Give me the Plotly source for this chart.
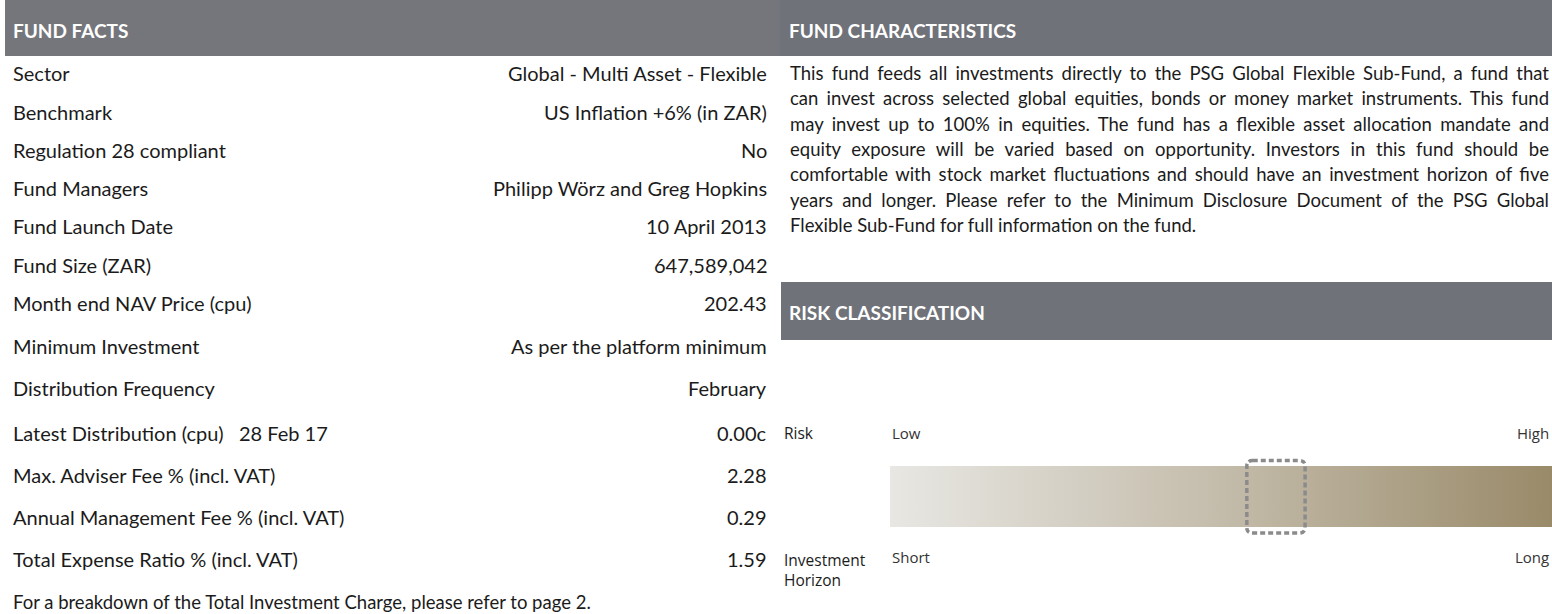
import json
import plotly.graph_objects as go

# ---- data ----
fact_labels = [
    "Sector", "Benchmark", "Regulation 28 compliant", "Fund Managers",
    "Fund Launch Date", "Fund Size (ZAR)", "Month end NAV Price (cpu)",
    "Minimum Investment", "Distribution Frequency",
    "Latest Distribution (cpu)\u00a0\u00a0\u00a028 Feb 17",
    "Max. Adviser Fee % (incl. VAT)", "Annual Management Fee % (incl. VAT)",
    "Total Expense Ratio % (incl. VAT)",
]
fact_values = [
    "Global - Multi Asset - Flexible", "US Inflation +6% (in ZAR)", "No",
    "Philipp Wörz and Greg Hopkins", "10 April 2013", "647,589,042", "202.43",
    "As per the platform minimum", "February", "0.00c", "2.28", "0.29", "1.59",
]
footnote = "For a breakdown of the Total Investment Charge, please refer to page 2."

characteristics_lines = [
    "This fund feeds all investments directly to the PSG Global Flexible Sub-Fund, a fund that",
    "can invest across selected global equities, bonds or money market instruments. This fund",
    "may invest up to 100% in equities. The fund has a flexible asset allocation mandate and",
    "equity exposure will be varied based on opportunity. Investors in this fund should be",
    "comfortable with stock market fluctuations and should have an investment horizon of five",
    "years and longer. Please refer to the Minimum Disclosure Document of the PSG Global",
    "Flexible Sub-Fund for full information on the fund.",
]

risk_scale_ends = ["Low", "High"]
horizon_scale_ends = ["Short", "Long"]
risk_level = 0.583  # position of the fund on the low -> high scale

# ---- layout helpers (pixel positions) ----
W, H = 1552, 614
row_y = [73, 112, 150, 188, 226, 265, 303, 346, 388, 433, 475, 517, 559]
footer_y = 602
para_y0, para_dy = 73, 25.3
para_x0, para_x1 = 789, 1548
bar_x0, bar_top, bar_bot = 890, 466, 527
pad = 0.2  # extra room round the bar so the marker is not clipped

HEAD = "#75767c"
HEAD2 = "#707279"
TXT = "#1b1b1b"
BODY_FONT = "Lato"

fig = go.Figure()

# gradient risk bar
fig.add_trace(go.Scatter(
    x=[0, 1, 1, 0, 0], y=[0, 0, 1, 1, 0],
    fill="toself", mode="none",
    fillgradient=dict(type="horizontal",
                      colorscale=[[0, "#e8e7e3"], [0.5, "#c4bcab"], [1, "#998a69"]]),
    hoverinfo="skip", showlegend=False,
    xaxis="x2", yaxis="y2",
))

shapes = [
    dict(type="rect", xref="x", yref="y", x0=5, x1=780, y0=0, y1=56,
         fillcolor=HEAD, line_width=0, layer="below"),
    dict(type="rect", xref="x", yref="y", x0=780, x1=W, y0=0, y1=56,
         fillcolor=HEAD2, line_width=0, layer="below"),
    dict(type="rect", xref="x", yref="y", x0=781, x1=W, y0=282, y1=340,
         fillcolor=HEAD2, line_width=0, layer="below"),
]

# dashed rounded marker around the risk level
hw, rx = 0.044, 0.009
yb, yt, ry = -0.1, 1.09, 0.09
xl, xr = risk_level - hw, risk_level + hw
path = (f"M {xl + rx},{yt} L {xr - rx},{yt} Q {xr},{yt} {xr},{yt - ry} "
        f"L {xr},{yb + ry} Q {xr},{yb} {xr - rx},{yb} L {xl + rx},{yb} "
        f"Q {xl},{yb} {xl},{yb + ry} L {xl},{yt - ry} Q {xl},{yt} {xl + rx},{yt} Z")
shapes.append(dict(type="path", xref="x2", yref="y2", path=path,
                   line=dict(color="#8b8b8b", width=3.5, dash="5px,3px")))

ann = []


def txt(x, y, s, size, anchor="left", color=TXT, bold=False, family=BODY_FONT, yanchor="middle"):
    ann.append(dict(x=x, y=y, xref="x", yref="y", text=s, showarrow=False,
                    xanchor=anchor, yanchor=yanchor, align=anchor,
                    font=dict(family=family, size=size, color=color,
                              weight=700 if bold else 400)))


# headers
txt(11, 30, "FUND FACTS", 19, color="white", bold=True)
txt(787, 30, "FUND CHARACTERISTICS", 19, color="white", bold=True)
txt(787, 312, "RISK CLASSIFICATION", 19, color="white", bold=True)

# fund facts rows
for lab, val, y in zip(fact_labels, fact_values, row_y):
    txt(11, y, lab, 20)
    txt(769, y, val, 20, anchor="right")
txt(11, footer_y, footnote, 18.5)

# characteristics paragraph
for i, line in enumerate(characteristics_lines):
    txt(para_x0 - 1, para_y0 + i * para_dy, line, 18.5)

# risk classification labels
txt(782, 433, "Risk", 15.5, family="Open Sans")
txt(782, 547, "Investment<br>Horizon", 15.5, family="Open Sans", yanchor="top")
txt(bar_x0, 433, risk_scale_ends[0], 15, family="Open Sans", color="#333333")
txt(1551, 433, risk_scale_ends[1], 15, anchor="right", family="Open Sans", color="#333333")
txt(bar_x0, 557, horizon_scale_ends[0], 15, family="Open Sans", color="#333333")
txt(1551, 557, horizon_scale_ends[1], 15, anchor="right", family="Open Sans", color="#333333")

bar_h = bar_bot - bar_top
fig.update_layout(
    width=W, height=H,
    margin=dict(l=0, r=0, t=0, b=0),
    paper_bgcolor="white", plot_bgcolor="white",
    showlegend=False,
    xaxis=dict(range=[0, W], visible=False, fixedrange=True),
    yaxis=dict(range=[H, 0], visible=False, fixedrange=True),
    xaxis2=dict(domain=[bar_x0 / W, 1], range=[0, 1], anchor="y2",
                visible=False, fixedrange=True),
    yaxis2=dict(domain=[1 - (bar_bot + pad * bar_h) / H, 1 - (bar_top - pad * bar_h) / H],
                range=[-pad, 1 + pad], anchor="x2",
                visible=False, fixedrange=True),
    shapes=shapes,
    annotations=ann,
)

# justify all but the last paragraph line, like the printed fact sheet
justify_js = """
document.body.style.margin = '0';
var gd = document.getElementById('{plot_id}');
var lines = %s;
gd.querySelectorAll('text.annotation-text').forEach(function (t) {
  if (lines.indexOf(t.textContent) >= 0) {
    var n = (t.textContent.match(/ /g) || []).length;
    var extra = %d - t.getComputedTextLength();
    if (n > 0 && extra > 0) { t.style.wordSpacing = (extra / n) + 'px'; }
  }
});
""" % (json.dumps(characteristics_lines[:-1]), para_x1 - para_x0)

fig.write_html("out.html", post_script=justify_js, config={"displayModeBar": False})
